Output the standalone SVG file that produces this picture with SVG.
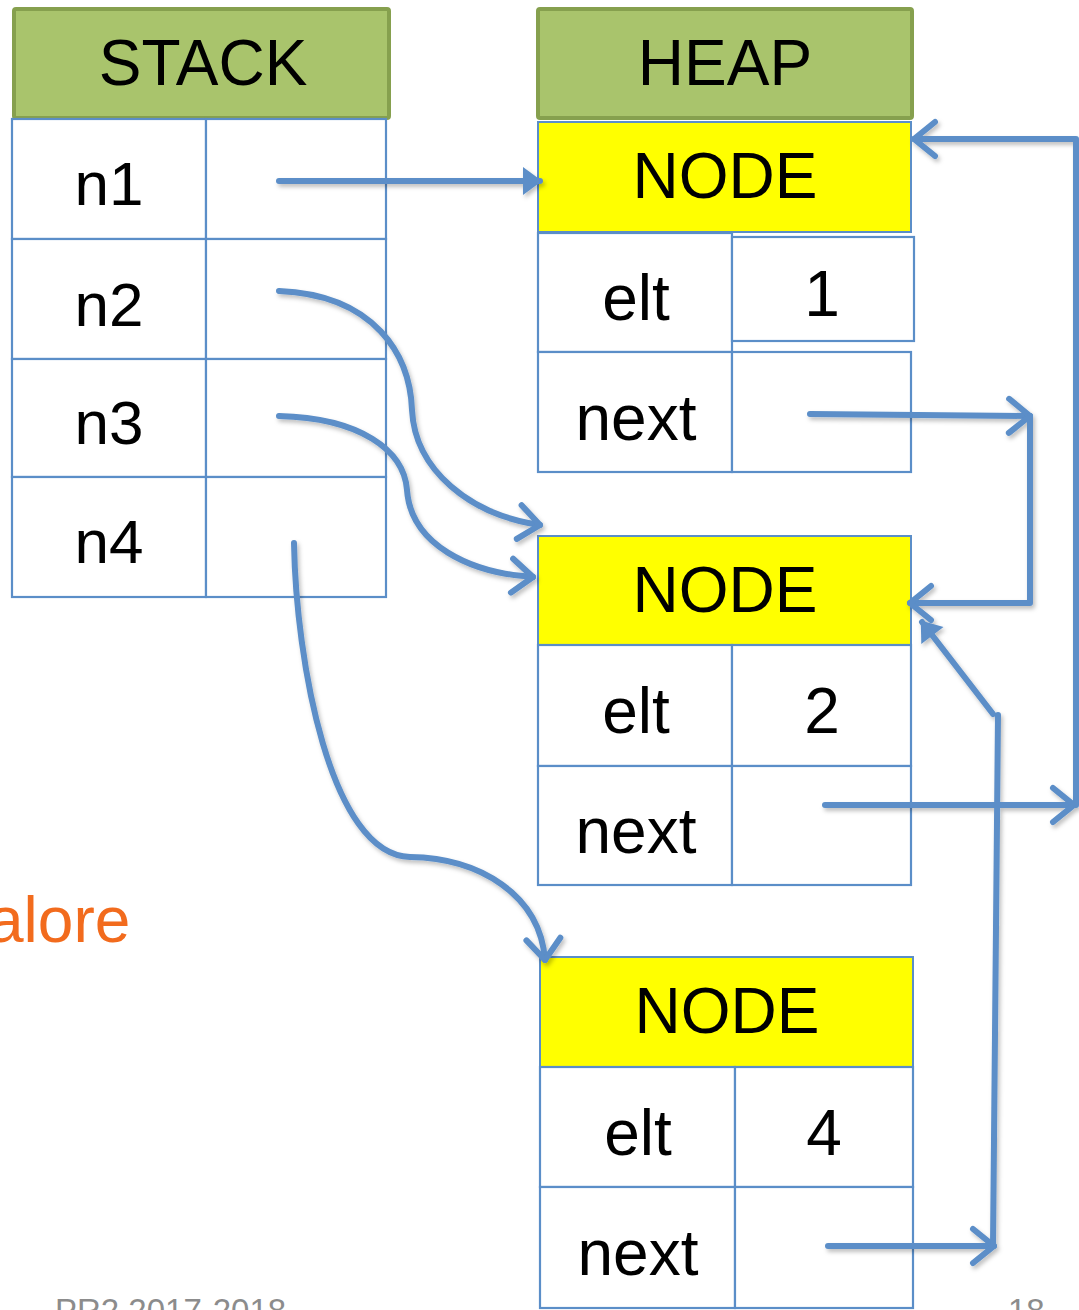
<svg xmlns="http://www.w3.org/2000/svg" width="1079" height="1310" viewBox="0 0 1079 1310">
<style>
.t{font-family:"Liberation Sans",Arial,sans-serif;fill:#000;text-anchor:middle}
.big{font-size:64px}
.hd{fill:#a9c46c;stroke:#86a04e;stroke-width:4}
.nh{fill:#ffff00;stroke:#5b8ec8;stroke-width:2}
.cell{fill:#fff;stroke:#5b8ec8;stroke-width:2.2}
.c{fill:none;stroke:#5b8ec8;stroke-width:6;stroke-linecap:round;stroke-linejoin:round}
.foot{font-family:"Liberation Sans",Arial,sans-serif;fill:#8c8c8c;font-size:33px}
</style>
<defs>
<marker id="tri" markerWidth="30" markerHeight="30" refX="17" refY="14" orient="auto" markerUnits="userSpaceOnUse" overflow="visible">
<path d="M0,0 L19,14 L0,28 Z" fill="#5b8ec8"/>
</marker>
<marker id="chev" markerWidth="30" markerHeight="40" refX="24" refY="18" orient="auto" markerUnits="userSpaceOnUse" overflow="visible">
<path d="M3,1 L24,18 L3,35" fill="none" stroke="#5b8ec8" stroke-width="6" stroke-linecap="round" stroke-linejoin="round"/>
</marker>
<filter id="sh" x="-10%" y="-10%" width="120%" height="120%">
<feDropShadow dx="2" dy="3" stdDeviation="2" flood-color="#000" flood-opacity="0.25"/>
</filter>
</defs>
<rect width="1079" height="1310" fill="#fff"/>

<g id="stack-header">
<rect class="hd" x="14" y="9" width="375" height="109" rx="2"/>
<text class="t big" x="203" y="85">STACK</text>
</g>
<g id="heap-header">
<rect class="hd" x="538" y="9" width="374" height="109" rx="2"/>
<text class="t big" x="725" y="85">HEAP</text>
</g>

<g id="stack">
<rect class="cell" x="12" y="119" width="194" height="120"/>
<rect class="cell" x="206" y="119" width="180" height="120"/>
<rect class="cell" x="12" y="239" width="194" height="120"/>
<rect class="cell" x="206" y="239" width="180" height="120"/>
<rect class="cell" x="12" y="359" width="194" height="118"/>
<rect class="cell" x="206" y="359" width="180" height="118"/>
<rect class="cell" x="12" y="477" width="194" height="120"/>
<rect class="cell" x="206" y="477" width="180" height="120"/>
<text class="t" font-size="62" x="109" y="205">n1</text>
<text class="t" font-size="62" x="109" y="326">n2</text>
<text class="t" font-size="62" x="109" y="444">n3</text>
<text class="t" font-size="62" x="109" y="563">n4</text>
</g>

<g id="node1">
<rect class="nh" x="538" y="122" width="373" height="110"/>
<text class="t big" x="725" y="198">NODE</text>
<rect class="cell" x="538" y="233" width="194" height="119"/>
<rect class="cell" x="732" y="237" width="182" height="104"/>
<rect class="cell" x="538" y="352" width="194" height="120"/>
<rect class="cell" x="732" y="352" width="179" height="120"/>
<text class="t big" x="636" y="320">elt</text>
<text class="t big" x="822" y="316">1</text>
<text class="t big" x="636" y="440">next</text>
</g>

<g id="node2">
<rect class="nh" x="538" y="536" width="373" height="109"/>
<text class="t big" x="725" y="612">NODE</text>
<rect class="cell" x="538" y="645" width="194" height="121"/>
<rect class="cell" x="732" y="645" width="179" height="121"/>
<rect class="cell" x="538" y="766" width="194" height="119"/>
<rect class="cell" x="732" y="766" width="179" height="119"/>
<text class="t big" x="636" y="733">elt</text>
<text class="t big" x="822" y="733">2</text>
<text class="t big" x="636" y="853">next</text>
</g>

<g id="node3">
<rect class="nh" x="540" y="957" width="373" height="110"/>
<text class="t big" x="727" y="1033">NODE</text>
<rect class="cell" x="540" y="1067" width="195" height="120"/>
<rect class="cell" x="735" y="1067" width="178" height="120"/>
<rect class="cell" x="540" y="1187" width="195" height="121"/>
<rect class="cell" x="735" y="1187" width="178" height="121"/>
<text class="t big" x="638" y="1155">elt</text>
<text class="t big" x="824" y="1155">4</text>
<text class="t big" x="638" y="1275">next</text>
</g>

<g id="connectors" filter="url(#sh)">
<path class="c" d="M279,181 L540,181" marker-end="url(#tri)"/>
<path class="c" d="M279,291 C375,295 410,355 412,410 C415,470 470,515 540,525" marker-end="url(#chev)"/>
<path class="c" d="M279,416 C360,418 404,450 407,490 C411,545 470,573 533,577" marker-end="url(#chev)"/>
<path class="c" d="M294,543 C296,660 330,855 410,857 C480,858 540,895 545,960" marker-end="url(#chev)"/>
<path class="c" d="M810,414 L1030,416" marker-end="url(#chev)"/>
<path class="c" d="M1030,416 L1030,603 L910,603" marker-end="url(#chev)"/>
<path class="c" d="M825,805 L1074,805" marker-end="url(#chev)"/>
<path class="c" d="M1076,805 L1076,139 L914,139" marker-end="url(#chev)"/>
<path class="c" d="M828,1246 L994,1246" marker-end="url(#chev)"/>
<path class="c" d="M993,1246 L998,715"/>
<path class="c" d="M993,714 L922,622" marker-end="url(#tri)"/>
</g>

<text font-family="Liberation Sans,Arial,sans-serif" font-size="64" fill="#f26b1d" x="-12" y="942">alore</text>
<text class="foot" x="55" y="1322">PR2 2017-2018</text>
<text class="foot" x="1008" y="1322">18</text>
</svg>
